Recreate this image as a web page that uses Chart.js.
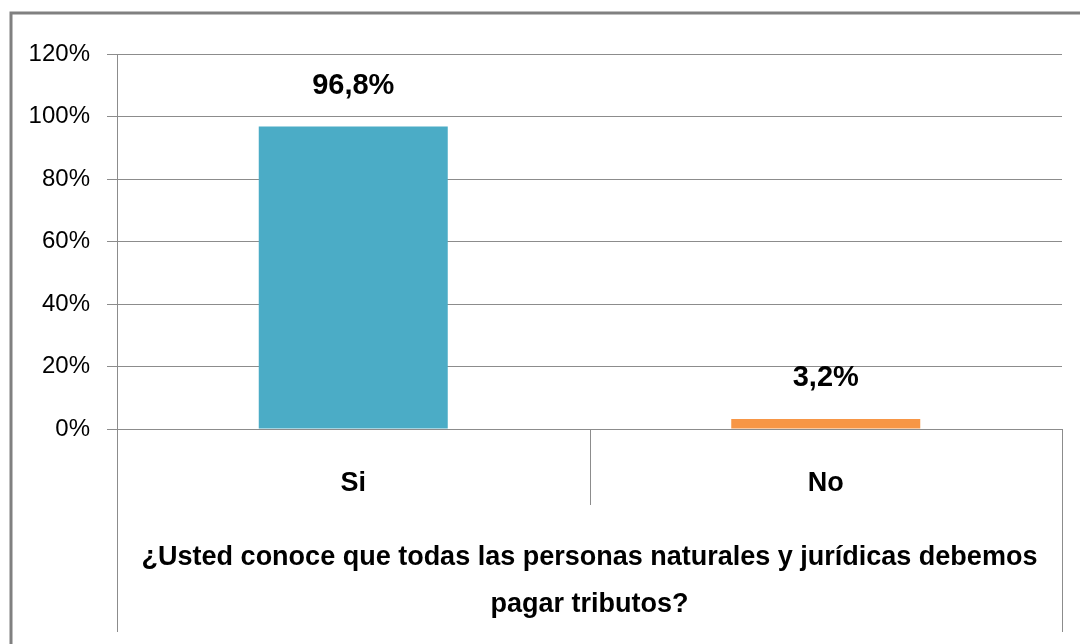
<!DOCTYPE html>
<html>
<head>
<meta charset="utf-8">
<script src="https://cdn.jsdelivr.net/npm/chart.js@4.4.0/dist/chart.umd.min.js"></script>
<style>
    html, body { margin: 0; padding: 0; background: #ffffff; }
    #wrap { width: 1080px; height: 644px; position: relative; }
</style>
</head>
<body>
<div id="wrap"><canvas id="chart"></canvas></div>
<script>
const categories = ['Si', 'No'];
const values = [0.968, 0.032];
const valueLabels = ['96,8%', '3,2%'];
const barColors = ['#4BACC6', '#F79646'];
const axisTitle = ['¿Usted conoce que todas las personas naturales y jurídicas debemos', 'pagar tributos?'];

const fontFamily = "'Liberation Sans', Arial, sans-serif";
const lineColor = '#8c8c8c';

// outer frame of the chart (top and left edges only are visible)
const frame = {
    id: 'frame',
    beforeDraw(chart) {
        const { ctx } = chart;
        ctx.save();
        ctx.strokeStyle = '#808080';
        ctx.lineWidth = 3;
        ctx.beginPath();
        ctx.moveTo(11, 644);
        ctx.lineTo(11, 13);
        ctx.lineTo(1080, 13);
        ctx.stroke();
        ctx.restore();
    }
};

// category dividers below the axis, like Excel's multi-level axis
const dividers = {
    id: 'dividers',
    afterDraw(chart) {
        const { ctx, chartArea } = chart;
        const x = chart.scales.x;
        const mid = (x.getPixelForValue(0) + x.getPixelForValue(1)) / 2;
        ctx.save();
        ctx.strokeStyle = lineColor;
        ctx.lineWidth = 1;
        ctx.beginPath();
        ctx.moveTo(chartArea.left + 0.5, chartArea.bottom);
        ctx.lineTo(chartArea.left + 0.5, 632);
        ctx.moveTo(chartArea.right + 0.5, chartArea.bottom);
        ctx.lineTo(chartArea.right + 0.5, 632);
        ctx.moveTo(Math.round(mid) + 0.5, chartArea.bottom);
        ctx.lineTo(Math.round(mid) + 0.5, 505);
        ctx.stroke();
        ctx.restore();
    }
};

const barLabels = {
    id: 'barLabels',
    afterDatasetsDraw(chart) {
        const { ctx } = chart;
        const meta = chart.getDatasetMeta(0);
        ctx.save();
        ctx.font = 'bold 29px ' + fontFamily;
        ctx.fillStyle = '#000000';
        ctx.textAlign = 'center';
        ctx.textBaseline = 'middle';
        meta.data.forEach((bar, i) => {
            ctx.fillText(valueLabels[i], bar.x, bar.y - 41);
        });
        ctx.restore();
    }
};

new Chart(document.getElementById('chart'), {
    type: 'bar',
    data: {
        labels: categories,
        datasets: [{
            data: values,
            backgroundColor: barColors,
            borderWidth: 0,
            barPercentage: 0.4,
            categoryPercentage: 1
        }]
    },
    options: {
        responsive: true,
        maintainAspectRatio: false,
        animation: false,
        layout: { padding: { left: 0, top: 54, right: 18, bottom: 0 } },
        plugins: {
            legend: { display: false },
            tooltip: { enabled: false }
        },
        scales: {
            y: {
                min: 0,
                max: 1.2,
                afterFit(scale) { scale.width = 117; },
                ticks: {
                    stepSize: 0.2,
                    color: '#000000',
                    padding: 17,
                    font: { family: fontFamily, size: 24 },
                    callback: v => Math.round(v * 100) + '%'
                },
                grid: { color: lineColor, tickLength: 10, lineWidth: 1 },
                border: { color: lineColor }
            },
            x: {
                afterFit(scale) { scale.height = 215; },
                ticks: {
                    color: '#000000',
                    padding: 30,
                    font: { family: fontFamily, size: 27, weight: 'bold' }
                },
                grid: { display: false },
                border: { color: lineColor },
                title: {
                    display: true,
                    text: axisTitle,
                    color: '#000000',
                    padding: { top: 0, bottom: 16 },
                    font: { family: fontFamily, size: 27, weight: 'bold', lineHeight: 1.74 }
                }
            }
        }
    },
    plugins: [frame, dividers, barLabels]
});
</script>
</body>
</html>
